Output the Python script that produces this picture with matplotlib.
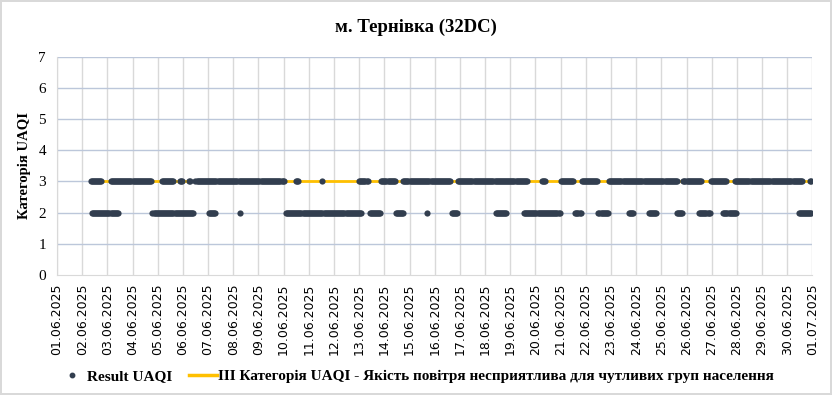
import matplotlib.pyplot as plt
from matplotlib.lines import Line2D
import numpy as np
import pandas as pd

# hourly UAQI readings (dd.mm HH:MM, 2025)
cat3_periods = [
    ("02.06 08:00", "02.06 18:00"), ("03.06 03:00", "04.06 18:00"),
    ("05.06 04:00", "05.06 15:00"), ("05.06 21:00", "05.06 23:00"),
    ("06.06 06:00", "06.06 07:00"), ("06.06 12:00", "10.06 00:00"),
    ("10.06 12:00", "10.06 14:00"), ("11.06 13:00", "11.06 13:00"),
    ("13.06 00:00", "13.06 08:00"), ("13.06 21:00", "14.06 10:00"),
    ("14.06 18:00", "16.06 15:00"), ("16.06 22:00", "19.06 16:00"),
    ("20.06 06:00", "20.06 09:00"), ("21.06 00:00", "21.06 12:00"),
    ("21.06 20:00", "22.06 11:00"), ("22.06 22:00", "25.06 15:00"),
    ("25.06 21:00", "26.06 14:00"), ("26.06 23:00", "27.06 14:00"),
    ("27.06 22:00", "30.06 14:00"), ("30.06 22:00", "30.06 23:00"),
]
cat2_periods = [
    ("02.06 09:00", "03.06 10:00"), ("04.06 19:00", "06.06 10:00"),
    ("07.06 01:00", "07.06 07:00"), ("08.06 06:00", "08.06 06:00"),
    ("10.06 02:00", "13.06 02:00"), ("13.06 10:00", "13.06 20:00"),
    ("14.06 11:00", "14.06 18:00"), ("15.06 17:00", "15.06 17:00"),
    ("16.06 16:00", "16.06 21:00"), ("18.06 10:00", "18.06 20:00"),
    ("19.06 13:00", "20.06 23:00"), ("21.06 14:00", "21.06 19:00"),
    ("22.06 12:00", "22.06 21:00"), ("23.06 17:00", "23.06 21:00"),
    ("24.06 12:00", "24.06 19:00"), ("25.06 15:00", "25.06 20:00"),
    ("26.06 12:00", "26.06 22:00"), ("27.06 11:00", "27.06 23:00"),
    ("30.06 11:00", "30.06 23:00"),
]
threshold = 3
title = "м. Тернівка (32DC)"
y_label = "Категорія UAQI"
series_label = "Result UAQI"
threshold_label = "III Категорія UAQI - Якість повітря несприятлива для чутливих груп населення"
x_start, x_end = "01.06.2025", "01.07.2025"


def expand(periods, value):
    times = []
    for a, b in periods:
        t0 = pd.to_datetime(a + ".2025", format="%d.%m %H:%M.%Y")
        t1 = pd.to_datetime(b + ".2025", format="%d.%m %H:%M.%Y")
        times.extend(pd.date_range(t0, t1, freq="h"))
    return times, [value] * len(times)


t3, v3 = expand(cat3_periods, 3)
t2, v2 = expand(cat2_periods, 2)
times = pd.to_datetime(t3 + t2)
values = np.array(v3 + v2)

serif = "Liberation Serif"
dot_color = "#323e4f"
line_color = "#ffc000"

fig = plt.figure(figsize=(8.32, 3.95), dpi=100, edgecolor="#d9d9d9", linewidth=1.5)
ax = fig.add_axes([0.0685, 0.304, 0.908, 0.552])

# threshold line under the points
ax.plot([times.min(), times.max()], [threshold, threshold], color=line_color, lw=2, zorder=2)
ax.scatter(times, values, s=20, color=dot_color, zorder=3, linewidths=0)

xs = pd.to_datetime(x_start, format="%d.%m.%Y")
xe = pd.to_datetime(x_end, format="%d.%m.%Y")
days = pd.date_range(xs, xe, freq="D")
ax.set_xlim(xs, xe)
ax.set_xticks(days)
ax.set_xticklabels([d.strftime("%d.%m.%Y") for d in days], rotation=90,
                   fontsize=9, family="DejaVu Sans")
ax.set_ylim(0, 7)
ax.set_yticks(range(0, 8))
ax.set_yticklabels([str(i) for i in range(8)], fontsize=11, family=serif)
ax.tick_params(length=0, pad=8)
ax.tick_params(axis="x", pad=6)

for d in days:
    ax.axvline(d, color="#d9d9d9", lw=1, zorder=0)
for y in range(1, 8):
    ax.axhline(y, color="#bcc7da", lw=1, zorder=1)
for s in ["top", "right"]:
    ax.spines[s].set_visible(False)
ax.spines["left"].set_color("#d9d9d9")
ax.spines["bottom"].set_color("#d9d9d9")

ax.set_ylabel(y_label, family=serif, fontweight="bold", fontsize=10.5, labelpad=5)
fig.text(0.5, 0.932, title, ha="center", va="center", family=serif,
         fontweight="bold", fontsize=13.5)

handles = [
    Line2D([], [], ls="none", marker="o", ms=3.2, color=dot_color),
    Line2D([], [], color=line_color, lw=2.5),
]
fig.legend(handles, [series_label, threshold_label], loc="center",
           bbox_to_anchor=(0.5, 0.048), ncol=2, frameon=False,
           prop={"family": serif, "weight": "bold", "size": 11},
           handlelength=1.8, handletextpad=0.1, columnspacing=1.1)

fig.savefig("out.png", dpi=100, edgecolor=fig.get_edgecolor())
